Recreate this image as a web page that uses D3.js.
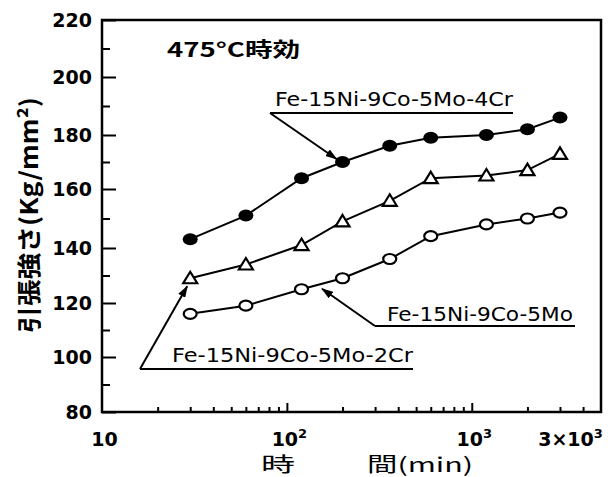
<!DOCTYPE html>
<html>
<head>
<meta charset="utf-8">
<script src="https://cdn.jsdelivr.net/npm/d3@7"></script>
<style>
  body { margin: 0; background: #fff; }
  svg { display: block; }
  text { fill: #000; }
</style>
</head>
<body>
<div id="chart"></div>
<script>
// aging time (min) and tensile strength (kg/mm2)
const times = [30, 60, 120, 200, 360, 600, 1200, 2000, 3000];
const cr4 = [143, 151, 164, 170, 176, 179, 180, 182, 186];
const cr2 = [129, 134, 141, 149, 156, 164, 165, 167, 173];
const mo5 = [116, 119, 125, 129, 136, 144, 148, 150, 152];

const yMajor = [80, 100, 120, 140, 160, 180, 200, 220];
const yMinor = [90, 110, 130, 150, 170, 190, 210];
const xDecade = [100, 1000];
const xMinor = [20, 30, 40, 50, 60, 70, 80, 90, 200, 300, 400, 500, 600, 700, 800, 900, 2000, 3000, 4000];
const xLabelAt = [10, 100, 1000, 3000];
const xLabelBase = ["10", "10", "10", "3×10"];
const xLabelSup = ["", "2", "3", "3"];

const width = 608, height = 477;
const svg = d3.select("#chart").append("svg")
  .attr("width", width)
  .attr("height", height);

const x = d3.scaleLog()
  .domain([10, 5000])
  .range([102, 601]);

// the hand-drawn axis is slightly uneven, so the scale follows its tick marks
const y = d3.scaleLinear()
  .domain(yMajor)
  .range([412, 357, 303, 248, 189, 135, 77, 20]);

const defs = svg.append("defs");
defs.append("marker")
  .attr("id", "arrow")
  .attr("markerUnits", "userSpaceOnUse")
  .attr("markerWidth", 12)
  .attr("markerHeight", 8)
  .attr("refX", 11)
  .attr("refY", 4)
  .attr("orient", "auto")
  .append("path")
  .attr("d", "M0,0 L12,4 L0,8 Z")
  .attr("fill", "#000");

// frame
svg.append("rect")
  .attr("x", x(10))
  .attr("y", y(220))
  .attr("width", x(5000) - x(10))
  .attr("height", y(80) - y(220))
  .attr("fill", "none")
  .attr("stroke", "#000")
  .attr("stroke-width", 2.5);

function cleanAxis(g) {
  g.select(".domain").remove();
  g.selectAll(".tick line").attr("stroke", "#000").attr("stroke-width", 2);
}

// y axis
svg.append("g")
  .attr("transform", `translate(${x(10)},0)`)
  .call(d3.axisLeft(y).tickValues(yMajor).tickSize(-14).tickPadding(10))
  .call(cleanAxis)
  .call(g => g.selectAll(".tick text")
    .attr("font-family", "DejaVu Sans, sans-serif")
    .attr("font-weight", "bold")
    .attr("font-size", 19)
    .attr("fill", "#000"));

svg.append("g")
  .attr("transform", `translate(${x(10)},0)`)
  .call(d3.axisLeft(y).tickValues(yMinor).tickSize(-8).tickFormat(""))
  .call(cleanAxis);

// x axis
svg.append("g")
  .attr("transform", `translate(0,${y(80)})`)
  .call(d3.axisBottom(x).tickValues(xDecade).tickSize(-9).tickFormat(""))
  .call(cleanAxis);

svg.append("g")
  .attr("transform", `translate(0,${y(80)})`)
  .call(d3.axisBottom(x).tickValues(xMinor).tickSize(-5).tickFormat(""))
  .call(cleanAxis);

const xLab = svg.append("g")
  .attr("transform", `translate(0,${y(80)})`)
  .call(d3.axisBottom(x).tickValues(xLabelAt).tickSize(0).tickFormat(""));
xLab.select(".domain").remove();
xLab.selectAll(".tick text").each(function (d, i) {
  const t = d3.select(this)
    .attr("y", 34)
    .attr("dy", null)
    .attr("dx", d === 3000 ? 10 : 2)
    .attr("font-family", "DejaVu Sans, sans-serif")
    .attr("font-weight", "bold")
    .attr("font-size", 19)
    .attr("fill", "#000");
  t.text(null);
  t.append("tspan").text(xLabelBase[i]);
  if (xLabelSup[i]) {
    t.append("tspan")
      .attr("font-size", 13)
      .attr("dy", -8)
      .text(xLabelSup[i]);
  }
});

// axis titles
svg.append("text")
  .attr("x", 261)
  .attr("y", 472)
  .attr("font-family", "Noto Sans CJK JP, sans-serif")
  .attr("font-size", 20)
  .attr("textLength", 34)
  .attr("lengthAdjust", "spacingAndGlyphs")
  .text("時");
svg.append("text")
  .attr("x", 367)
  .attr("y", 472)
  .attr("font-family", "Noto Sans CJK JP, sans-serif")
  .attr("font-size", 20)
  .attr("textLength", 106)
  .attr("lengthAdjust", "spacingAndGlyphs")
  .text("間(min)");

svg.append("text")
  .attr("transform", "translate(38,215) rotate(-90)")
  .attr("text-anchor", "middle")
  .attr("font-family", "Noto Sans CJK JP, sans-serif")
  .attr("font-weight", "bold")
  .attr("font-size", 24)
  .attr("textLength", 236)
  .attr("lengthAdjust", "spacingAndGlyphs")
  .text("引張強さ(Kg/mm²)");

svg.append("text")
  .attr("x", 167)
  .attr("y", 57)
  .attr("font-family", "Noto Sans CJK JP, sans-serif")
  .attr("font-weight", "bold")
  .attr("font-size", 20)
  .attr("textLength", 133)
  .attr("lengthAdjust", "spacingAndGlyphs")
  .text("475°C時効");

// series lines
const line = d3.line()
  .x(d => x(d[0]))
  .y(d => y(d[1]));

const series = [
  { vals: cr4, marker: "dot" },
  { vals: cr2, marker: "tri" },
  { vals: mo5, marker: "ring" }
];

series.forEach(s => {
  const pts = times.map((t, i) => [t, s.vals[i]]);
  svg.append("path")
    .datum(pts)
    .attr("d", line)
    .attr("fill", "none")
    .attr("stroke", "#000")
    .attr("stroke-width", 2);

  const g = svg.append("g");
  if (s.marker === "dot") {
    g.selectAll("ellipse").data(pts).join("ellipse")
      .attr("cx", d => x(d[0]))
      .attr("cy", d => y(d[1]))
      .attr("rx", 7.5)
      .attr("ry", 6)
      .attr("fill", "#000");
  } else if (s.marker === "ring") {
    g.selectAll("ellipse").data(pts).join("ellipse")
      .attr("cx", d => x(d[0]))
      .attr("cy", d => y(d[1]))
      .attr("rx", 6.5)
      .attr("ry", 5)
      .attr("fill", "#fff")
      .attr("stroke", "#000")
      .attr("stroke-width", 2.2);
  } else {
    g.selectAll("path").data(pts).join("path")
      .attr("transform", d => `translate(${x(d[0])},${y(d[1])})`)
      .attr("d", "M0,-6.5 L7,5 L-7,5 Z")
      .attr("fill", "#fff")
      .attr("stroke", "#000")
      .attr("stroke-width", 2.2);
  }
});

// labels with underline and leader
function callout(label, tx, ty, tw, ux0, ux1, uy, end) {
  svg.append("text")
    .attr("x", tx)
    .attr("y", ty)
    .attr("font-family", "DejaVu Sans, sans-serif")
    .attr("font-size", 19)
    .attr("textLength", tw)
    .attr("lengthAdjust", "spacingAndGlyphs")
    .text(label);
  svg.append("line")
    .attr("x1", ux0).attr("x2", ux1)
    .attr("y1", uy).attr("y2", uy)
    .attr("stroke", "#000")
    .attr("stroke-width", 2);
  svg.append("line")
    .attr("x1", ux0).attr("y1", uy)
    .attr("x2", end[0]).attr("y2", end[1])
    .attr("stroke", "#000")
    .attr("stroke-width", 2)
    .attr("marker-end", "url(#arrow)");
}

callout("Fe-15Ni-9Co-5Mo-4Cr", 275, 106, 238, 270, 513, 113,
  [x(200) - 6, y(170) - 3]);
callout("Fe-15Ni-9Co-5Mo", 387, 321, 186, 375, 575, 326,
  [(x(120) + x(200)) / 2, (y(125) + y(129)) / 2 + 5]);
callout("Fe-15Ni-9Co-5Mo-2Cr", 172, 362, 241, 140, 413, 369,
  [x(30) - 3, y(129) + 8]);
</script>
</body>
</html>
